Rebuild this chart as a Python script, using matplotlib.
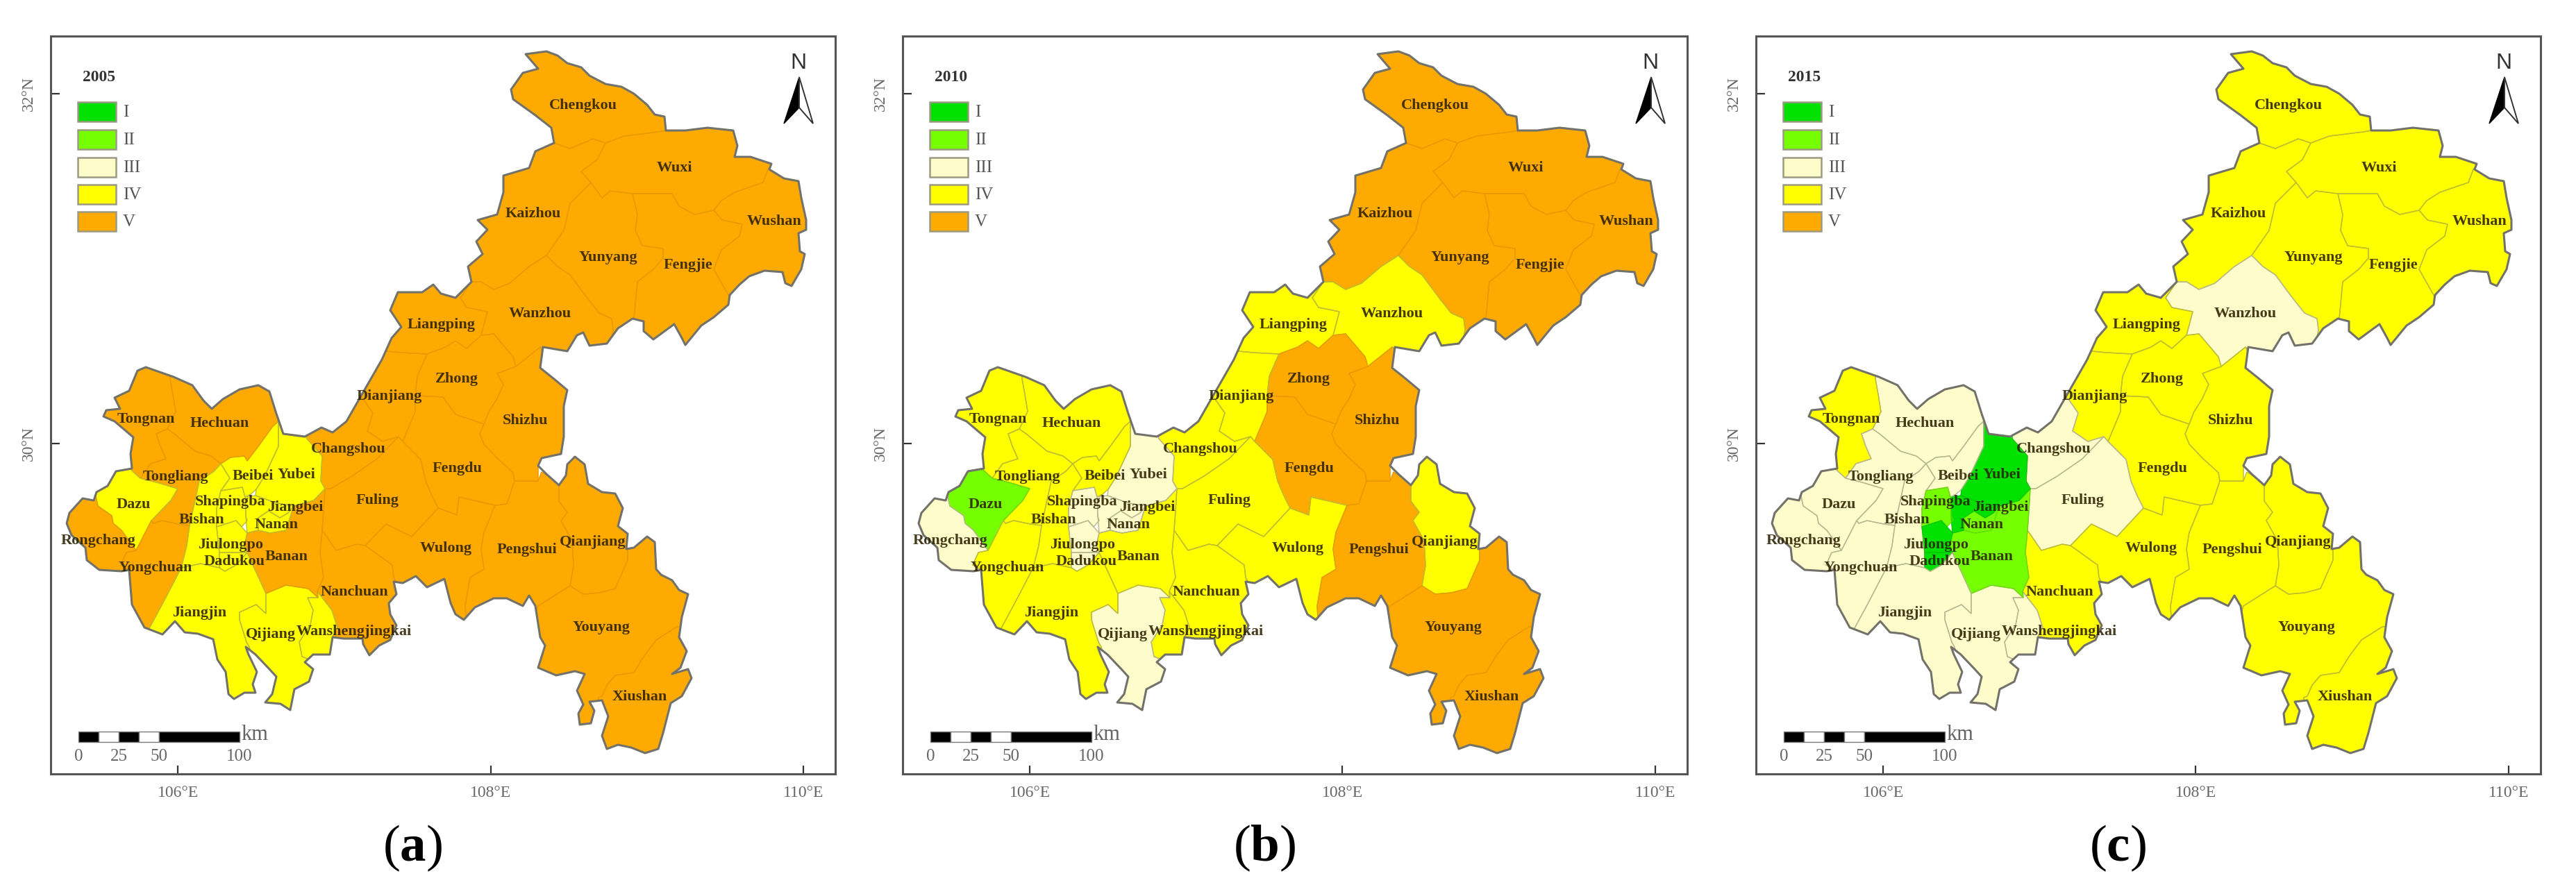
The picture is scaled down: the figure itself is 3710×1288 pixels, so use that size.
#!/usr/bin/env python3
"""
Three-panel map of Chongqing districts by grade, 2005 / 2010 / 2015.
Geometry was read off the figure, in pixels of the left panel, and is
converted to lon/lat before drawing. District shapes overrun the border
on purpose: they get clipped to the outline.
"""

import matplotlib
matplotlib.use("Agg")
import matplotlib.pyplot as plt
from matplotlib.patches import Polygon, Rectangle

plt.rcParams["font.family"] = ["Liberation Serif", "DejaVu Serif"]
plt.rcParams["mathtext.fontset"] = "custom"
plt.rcParams["mathtext.rm"] = "Liberation Serif"
plt.rcParams["mathtext.bf"] = "Liberation Serif:bold"

W, H = 3710, 1288
FRAME = (73, 52, 1203, 1115)          # left, top, right, bottom of panel a
PANEL_OFFSET = [0, 1227, 2456]
YEARS = ["2005", "2010", "2015"]
PANEL_TAGS = ["a", "b", "c"]

# two known ticks per axis give the px <-> degree scale
LON_TICKS = [106, 108, 110]
LON_TICK_PX = [256, 705, 1157]
LAT_TICKS = [30, 32]
LAT_TICK_PX = [639, 135]

GRADES = ["I", "II", "III", "IV", "V"]
GRADE_COLORS = ["#00E100", "#76FF00", "#FFFCCB", "#FFFF00", "#FFAA00"]
# district lines are only a shade darker than the fill
GRADE_LINES = ["#00C800", "#66DD00", "#B8B890", "#BDBD30", "#E89A00"]

OUTLINE = [
    (757, 78), (787, 74), (803, 80), (817, 91), (837, 97), (849, 109), (872, 121), (895, 125),
    (913, 135), (932, 151), (943, 165), (957, 168), (959, 188), (987, 188), (1019, 184), (1056, 188),
    (1062, 210), (1058, 226), (1081, 226), (1111, 236), (1108, 244), (1129, 257), (1150, 261), (1154, 285),
    (1161, 317), (1161, 331), (1150, 336), (1152, 362), (1159, 366), (1154, 388), (1140, 412), (1131, 408),
    (1127, 392), (1101, 390), (1079, 398), (1065, 410), (1051, 425), (1049, 439), (1028, 457), (1010, 469),
    (987, 497), (982, 487), (971, 467), (941, 489), (927, 477), (927, 463), (911, 459), (890, 473),
    (874, 495), (849, 498), (840, 479), (831, 483), (817, 506), (782, 500), (778, 530), (798, 546),
    (817, 562), (812, 585), (812, 629), (808, 654), (780, 660), (775, 671), (787, 683), (805, 699),
    (815, 685), (817, 669), (828, 658), (842, 669), (847, 697), (867, 709), (886, 711), (897, 732),
    (890, 758), (904, 769), (902, 791), (913, 789), (932, 773), (943, 781), (945, 820), (952, 828),
    (968, 836), (978, 850), (991, 856), (982, 889), (978, 918), (989, 938), (980, 962), (968, 971),
    (991, 964), (996, 977), (982, 1003), (966, 1013), (955, 1056), (948, 1079), (929, 1085), (909, 1077),
    (890, 1073), (874, 1079), (867, 1060), (876, 1032), (867, 1009), (849, 1011), (856, 1024), (851, 1042),
    (835, 1044), (833, 1028), (840, 1015), (831, 995), (842, 971), (828, 967), (801, 973), (775, 962),
    (785, 930), (778, 918), (771, 873), (762, 858), (753, 873), (730, 862), (711, 862), (684, 875),
    (668, 893), (656, 885), (649, 869), (640, 834), (615, 846), (599, 830), (580, 840), (567, 838),
    (571, 856), (560, 869), (562, 885), (571, 901), (562, 922), (546, 930), (532, 944), (523, 928),
    (522, 920), (495, 920), (479, 918), (475, 943), (451, 943), (439, 954), (451, 964), (445, 982),
    (424, 993), (418, 1023), (404, 1014), (382, 1012), (392, 1000), (398, 975), (388, 964), (368, 943),
    (354, 932), (358, 943), (370, 968), (364, 986), (368, 998), (352, 998), (337, 1007), (329, 1000),
    (325, 968), (313, 950), (307, 921), (285, 913), (266, 911), (252, 895), (234, 914), (208, 904),
    (190, 871), (186, 821), (175, 823), (143, 821), (125, 807), (123, 789), (103, 771), (96, 754),
    (100, 739), (119, 718), (135, 721), (139, 709), (155, 700), (167, 679), (190, 675), (188, 654),
    (192, 630), (165, 607), (149, 600), (153, 591), (173, 589), (165, 573), (186, 563), (198, 534),
    (210, 529), (250, 543), (277, 555), (293, 577), (305, 589), (321, 575), (345, 561), (372, 555),
    (388, 564), (398, 596), (408, 625), (439, 629), (463, 616), (479, 623), (499, 607), (515, 579),
    (534, 546), (550, 518), (564, 487), (578, 471), (562, 447), (573, 421), (608, 421), (624, 410),
    (635, 423), (656, 429), (679, 406), (674, 384), (695, 366), (686, 348), (702, 331), (688, 317),
    (716, 309), (725, 277), (725, 253), (762, 242), (771, 218), (798, 206), (794, 184), (771, 166),
    (739, 143), (736, 129), (753, 105), (775, 99),
]

Chengkou = [(798, 206), (770, 190), (700, 100), (780, 50), (900, 100), (970, 160), (959, 188), (948, 190),
            (899, 196), (872, 206), (854, 200), (821, 214)]
Wuxi = [(872, 206), (899, 196), (948, 190), (959, 188), (987, 180), (1060, 170), (1120, 230), (1106, 244),
        (1099, 263), (1058, 277), (1039, 289), (1028, 303), (1000, 309), (978, 297), (968, 279), (911, 279),
        (879, 275), (867, 285), (851, 263), (837, 247), (860, 230)]
Wushan = [(1106, 244), (1120, 230), (1170, 280), (1170, 420), (1060, 430), (1049, 425), (1028, 388), (1039, 360),
          (1065, 340), (1069, 323), (1040, 317), (1028, 303), (1039, 289), (1058, 277), (1099, 263)]
Kaizhou = [(798, 206), (821, 214), (854, 200), (872, 206), (860, 230), (837, 247), (851, 263), (821, 293),
           (812, 332), (787, 368), (762, 384), (734, 408), (711, 417), (693, 406), (679, 406), (650, 400),
           (700, 260), (770, 190)]
Yunyang = [(851, 263), (867, 285), (879, 275), (911, 279), (918, 309), (915, 332), (925, 354), (955, 358),
           (955, 372), (941, 388), (918, 406), (913, 459), (905, 470), (880, 490), (883, 475), (881, 459),
           (863, 451), (844, 427), (821, 396), (803, 384), (787, 368), (812, 332), (821, 293)]
Fengjie = [(911, 279), (968, 279), (978, 297), (1000, 309), (1028, 303), (1040, 317), (1069, 323), (1065, 340),
           (1039, 360), (1028, 388), (1049, 425), (1055, 440), (1000, 510), (930, 500), (905, 470), (913, 459),
           (918, 406), (941, 388), (955, 372), (955, 358), (925, 354), (915, 332), (918, 309)]
Wanzhou = [(787, 368), (803, 384), (821, 396), (844, 427), (863, 451), (881, 459), (883, 475), (880, 510),
           (780, 505), (778, 500), (743, 528), (739, 514), (711, 481), (693, 483), (702, 449), (672, 443),
           (663, 429), (679, 406), (693, 406), (711, 417), (734, 408), (762, 384)]
Liangping = [(679, 406), (663, 429), (672, 443), (702, 449), (693, 483), (672, 502), (656, 491), (642, 500),
             (615, 510), (578, 508), (557, 506), (540, 495), (540, 440), (580, 400), (670, 385)]
Zhong = [(642, 500), (656, 491), (672, 502), (693, 483), (711, 481), (739, 514), (743, 528), (716, 538),
         (725, 554), (716, 574), (704, 593), (697, 611), (656, 597), (638, 572), (598, 570), (601, 542), (615, 510)]
Dianjiang = [(557, 506), (578, 508), (615, 510), (601, 542), (598, 570), (598, 593), (580, 636), (574, 629),
             (551, 636), (529, 621), (537, 595), (523, 575), (505, 575), (540, 495)]
Shizhu = [(743, 528), (778, 500), (830, 540), (840, 640), (808, 654), (775, 671), (775, 693), (741, 693),
          (739, 681), (716, 660), (697, 640), (691, 625), (697, 611), (704, 593), (716, 574), (725, 554), (716, 538)]
Fengdu = [(598, 570), (638, 572), (656, 597), (697, 611), (691, 625), (697, 640), (716, 660), (739, 681),
          (741, 693), (730, 726), (713, 728), (661, 716), (658, 742), (631, 732), (622, 714), (613, 693),
          (606, 662), (580, 636), (598, 593)]
Changshou = [(523, 575), (537, 595), (529, 621), (551, 636), (574, 629), (543, 661), (507, 686), (476, 704),
             (468, 704), (462, 693), (464, 657), (442, 632), (430, 610), (500, 560)]
Fuling = [(468, 704), (476, 704), (507, 686), (543, 661), (574, 629), (580, 636), (606, 662), (613, 693),
          (622, 714), (631, 732), (593, 773), (556, 755), (526, 786), (514, 784), (484, 793), (464, 764), (466, 736)]
Wulong = [(526, 786), (556, 755), (593, 773), (631, 732), (658, 742), (661, 716), (713, 728), (697, 767),
          (693, 791), (697, 820), (677, 832), (670, 873), (672, 905), (640, 900), (575, 855), (567, 832), (565, 814)]
Pengshui = [(713, 728), (730, 726), (741, 693), (775, 693), (780, 680), (795, 690), (805, 699), (805, 722),
            (817, 738), (808, 750), (824, 779), (826, 815), (821, 844), (775, 873), (770, 890), (700, 890),
            (672, 905), (670, 873), (677, 832), (697, 820), (693, 791), (697, 767)]
Qianjiang = [(805, 699), (810, 650), (860, 640), (930, 720), (915, 760), (904, 791), (904, 807), (886, 848),
             (863, 854), (840, 856), (821, 844), (826, 815), (824, 779), (808, 750), (817, 738), (805, 722)]
Youyang = [(904, 791), (904, 807), (886, 848), (863, 854), (840, 856), (821, 844), (775, 873), (765, 900),
           (760, 980), (810, 1050), (860, 1050), (862, 1005), (867, 1003), (874, 987), (886, 973), (913, 969),
           (927, 946), (945, 922), (975, 903), (1010, 900), (1010, 840), (960, 760), (932, 760), (915, 780)]
Xiushan = [(867, 1003), (874, 987), (886, 973), (913, 969), (927, 946), (945, 922), (975, 903), (1010, 900),
           (1020, 1000), (960, 1100), (860, 1090), (862, 1005)]
Nanchuan = [(464, 764), (484, 793), (514, 784), (526, 786), (565, 814), (567, 832), (595, 880), (550, 965), (490, 950),
            (479, 918), (486, 904), (478, 879), (457, 852), (466, 832), (461, 796)]
Wansheng = [(457, 852), (478, 879), (486, 904), (479, 918), (485, 950), (445, 950), (435, 946), (431, 925),
            (447, 900), (451, 879), (443, 861), (458, 861)]
Qijiang = [(383, 855), (412, 843), (444, 848), (458, 861), (443, 861), (451, 879), (447, 900), (431, 925),
           (435, 946), (445, 950), (470, 975), (430, 1040), (375, 1020), (378, 975), (362, 945), (359, 932),
           (355, 925), (345, 893), (345, 882), (369, 871), (383, 884)]
Banan = [(356, 768), (372, 764), (389, 768), (412, 764), (423, 729), (452, 721), (468, 704), (466, 736),
         (464, 764), (461, 796), (466, 832), (457, 852), (458, 861), (444, 848), (412, 843), (383, 855),
         (366, 818), (356, 796), (352, 786)]
Nanan = [(372, 746), (387, 736), (403, 746), (415, 739), (423, 729), (412, 764), (389, 768), (372, 764)]
Jiangbei = [(353, 716), (368, 714), (399, 725), (423, 729), (415, 739), (403, 746), (387, 736), (372, 746),
            (372, 764), (356, 768), (354, 743)]
Yubei = [(401, 607), (415, 615), (442, 625), (442, 632), (464, 657), (462, 693), (468, 704), (452, 721),
         (423, 729), (399, 725), (368, 714), (369, 705), (381, 686), (401, 643)]
Beibei = [(318, 668), (332, 659), (352, 657), (356, 664), (372, 643), (393, 614), (401, 607), (401, 643),
          (381, 686), (369, 705), (361, 712), (353, 716), (349, 702), (318, 707), (331, 689)]
Hechuan = [(245, 546), (249, 568), (253, 593), (241, 618), (251, 625), (281, 650), (304, 657), (318, 668),
           (332, 659), (352, 657), (356, 664), (372, 643), (393, 614), (401, 607), (415, 590), (400, 540), (245, 510)]
Tongnan = [(245, 546), (249, 568), (253, 593), (241, 618), (225, 625), (231, 643), (239, 661), (217, 668),
           (202, 689), (190, 678), (170, 650), (130, 600), (190, 500), (245, 510)]
Tongliang = [(225, 625), (241, 618), (251, 625), (281, 650), (304, 657), (318, 668), (308, 679), (287, 693),
             (273, 757), (257, 755), (233, 750), (221, 754), (218, 750), (246, 721), (256, 704), (226, 695),
             (202, 689), (217, 668), (239, 661), (231, 643)]
Dazu = [(190, 678), (202, 689), (226, 695), (256, 704), (246, 721), (218, 750), (196, 793), (175, 764),
        (163, 754), (161, 743), (141, 729), (137, 711), (125, 700), (170, 660)]
Rongchang = [(137, 711), (141, 729), (161, 743), (163, 754), (175, 764), (196, 793), (182, 796), (174, 814),
             (186, 821), (170, 840), (100, 820), (80, 740), (120, 700)]
Yongchuan = [(196, 793), (218, 750), (221, 754), (233, 750), (257, 755), (273, 757), (269, 786), (261, 818),
             (235, 868), (215, 905), (200, 915), (170, 860), (170, 840), (186, 821), (174, 814), (182, 796)]
Bishan = [(318, 668), (331, 689), (318, 707), (312, 732), (312, 759), (316, 796), (316, 818), (289, 812),
          (261, 818), (269, 786), (273, 757), (287, 693), (308, 679)]
Shapingba = [(318, 707), (349, 702), (353, 716), (354, 743), (356, 750), (348, 759), (340, 750), (312, 759), (312, 732)]
Jiulongpo = [(312, 759), (340, 750), (348, 759), (356, 768), (352, 786), (356, 796), (316, 796)]
Dadukou = [(316, 796), (356, 796), (340, 814), (324, 823), (316, 818)]
Jiangjin = [(261, 818), (289, 812), (316, 818), (324, 823), (340, 814), (356, 796), (366, 818), (383, 855),
            (383, 884), (369, 871), (345, 882), (345, 893), (355, 925), (359, 932), (362, 945), (378, 975),
            (375, 1020), (300, 1020), (200, 920), (215, 905), (235, 868)]

DISTRICT_NAMES = ["Chengkou", "Wuxi", "Wushan", "Kaizhou", "Yunyang", "Fengjie", "Wanzhou", "Liangping",
                  "Zhong", "Dianjiang", "Shizhu", "Fengdu", "Changshou", "Fuling", "Wulong", "Pengshui",
                  "Qianjiang", "Youyang", "Xiushan", "Nanchuan", "Wanshengjingkai", "Qijiang", "Banan", "Nanan",
                  "Jiangbei", "Yubei", "Beibei", "Hechuan", "Tongnan", "Tongliang", "Dazu", "Rongchang",
                  "Yongchuan", "Bishan", "Shapingba", "Jiulongpo", "Dadukou", "Jiangjin"]
DISTRICT_SHAPES = [Chengkou, Wuxi, Wushan, Kaizhou, Yunyang, Fengjie, Wanzhou, Liangping,
                   Zhong, Dianjiang, Shizhu, Fengdu, Changshou, Fuling, Wulong, Pengshui,
                   Qianjiang, Youyang, Xiushan, Nanchuan, Wansheng, Qijiang, Banan, Nanan,
                   Jiangbei, Yubei, Beibei, Hechuan, Tongnan, Tongliang, Dazu, Rongchang,
                   Yongchuan, Bishan, Shapingba, Jiulongpo, Dadukou, Jiangjin]
LABEL_X = [840, 971, 1115, 768, 876, 991, 778, 636,
           658, 561, 757, 659, 502, 544, 642, 759,
           854, 866, 921, 510, 510, 390, 413, 398,
           425, 427, 364, 316, 210, 253, 192, 142,
           224, 290, 332, 332, 338, 287]
LABEL_Y = [152, 242, 319, 308, 371, 382, 452, 468,
           546, 571, 606, 675, 647, 721, 790, 792,
           781, 904, 1004, 853, 910, 914, 802, 756,
           731, 684, 686, 610, 604, 687, 727, 779,
           818, 749, 723, 785, 809, 883]

# grade index of each district, same order as DISTRICT_NAMES
GRADE_2005 = [4, 4, 4, 4, 4, 4, 4, 4, 4, 4, 4, 4, 4, 4, 4, 4, 4, 4, 4, 4, 3, 3, 4, 3,
              3, 3, 3, 4, 4, 4, 3, 4, 4, 3, 3, 3, 3, 3]
GRADE_2010 = [4, 4, 4, 4, 4, 4, 3, 3, 4, 3, 4, 4, 3, 3, 3, 4, 3, 4, 4, 3, 3, 2, 3, 2,
              2, 2, 3, 3, 3, 3, 1, 2, 3, 3, 2, 2, 2, 3]
GRADE_2015 = [3, 3, 3, 3, 3, 3, 2, 3, 3, 3, 3, 3, 2, 2, 3, 3, 3, 3, 3, 3, 2, 2, 1, 1,
              0, 0, 2, 2, 3, 2, 2, 2, 2, 2, 1, 0, 0, 2]
GRADE_BY_YEAR = [GRADE_2005, GRADE_2010, GRADE_2015]

SCALE_KM = [0, 12.5, 25, 37.5, 50, 100]
SCALE_LABELS = ["0", "25", "50", "100"]
SCALE_LABEL_KM = [0, 25, 50, 100]

LON_PER_PX = (LON_TICKS[2] - LON_TICKS[0]) / (LON_TICK_PX[2] - LON_TICK_PX[0])
LAT_PER_PX = (LAT_TICKS[1] - LAT_TICKS[0]) / (LAT_TICK_PX[1] - LAT_TICK_PX[0])


def to_map(x, y):
    return (LON_TICKS[0] + (x - LON_TICK_PX[0]) * LON_PER_PX,
            LAT_TICKS[0] + (y - LAT_TICK_PX[0]) * LAT_PER_PX)


def map_pts(pts):
    return [to_map(x, y) for x, y in pts]


def box(ax, x0, y0, x1, y1, **kw):
    (a, b), (c, d) = to_map(x0, y1), to_map(x1, y0)
    ax.add_patch(Rectangle((a, b), c - a, d - b, **kw))


def draw_legend(ax, year):
    tx, ty = to_map(143, 112)
    ax.text(tx, ty, year, fontsize=17, fontweight="bold", color="#333333", ha="center", va="center")
    tops = [147, 187, 227, 266, 305]
    for top, grade, col in zip(tops, GRADES, GRADE_COLORS):
        box(ax, 112, top, 167, top + 28, fc=col, ec="#9a9a80", lw=1.8)
        tx, ty = to_map(177, top + 15)
        ax.text(tx, ty, grade, fontsize=18, color="#555555", ha="left", va="center")


def draw_scale_bar(ax):
    px_per_km = 232 / 100
    for i in range(len(SCALE_KM) - 1):
        x0 = 113 + SCALE_KM[i] * px_per_km
        x1 = 113 + SCALE_KM[i + 1] * px_per_km
        box(ax, x0, 1054, x1, 1069, fc="black" if i % 2 == 0 else "white", ec="#777777", lw=1)
    for km, lab in zip(SCALE_LABEL_KM, SCALE_LABELS):
        tx, ty = to_map(113 + km * px_per_km, 1090)
        ax.text(tx, ty, lab, fontsize=18, color="#666666", ha="center", va="center")
    tx, ty = to_map(367, 1059)
    ax.text(tx, ty, "km", fontsize=22, color="#666666", ha="center", va="center")


def draw_north(ax):
    tx, ty = to_map(1150, 91)
    ax.text(tx, ty, "N", fontsize=23, color="#333333", ha="center", va="center", family="Liberation Sans")
    ax.add_patch(Polygon(map_pts([(1151, 111), (1129, 178), (1151, 155)]), fc="black", ec="black", lw=1))
    ax.add_patch(Polygon(map_pts([(1151, 111), (1171, 178), (1151, 155)]), fc="white", ec="#333333", lw=1.4))


def draw_panel(ax, year, grades):
    outline = Polygon(map_pts(OUTLINE), closed=True, fc="none", ec="none")
    ax.add_patch(outline)
    for shape, g in zip(DISTRICT_SHAPES, grades):
        poly = Polygon(map_pts(shape), closed=True, fc=GRADE_COLORS[g], ec=GRADE_COLORS[g], lw=0.5)
        ax.add_patch(poly)
        poly.set_clip_path(outline)
    # thin district lines go on top so they are not painted over by a neighbour
    for shape, g in zip(DISTRICT_SHAPES, grades):
        line = Polygon(map_pts(shape), closed=True, fc="none", ec=GRADE_LINES[g], lw=1.0)
        ax.add_patch(line)
        line.set_clip_path(outline)
    ax.add_patch(Polygon(map_pts(OUTLINE), closed=True, fc="none", ec="#72726A", lw=2.2, joinstyle="round"))

    for name, x, y in zip(DISTRICT_NAMES, LABEL_X, LABEL_Y):
        tx, ty = to_map(x, y)
        ax.text(tx, ty, name, fontsize=16, fontweight="bold", color="#2B2000", alpha=0.88,
                ha="center", va="center")

    draw_legend(ax, year)
    draw_scale_bar(ax)
    draw_north(ax)


def main():
    fig = plt.figure(figsize=(W / 100, H / 100), dpi=100)
    left, top, right, bottom = FRAME
    x0, y0 = to_map(left, bottom)
    x1, y1 = to_map(right, top)
    for offset, year, grades, tag in zip(PANEL_OFFSET, YEARS, GRADE_BY_YEAR, PANEL_TAGS):
        ax = fig.add_axes([(left + offset) / W, 1 - bottom / H, (right - left) / W, (bottom - top) / H])
        ax.set_xlim(x0, x1)
        ax.set_ylim(y0, y1)
        ax.set_xticks(LON_TICKS)
        ax.set_xticklabels([f"{v}°E" for v in LON_TICKS])
        ax.set_yticks(LAT_TICKS)
        ax.set_yticklabels([f"{v}°N" for v in LAT_TICKS], rotation=90, va="center")
        ax.tick_params(direction="in", length=9, width=1.6, color="#333333", labelcolor="#666666",
                       labelsize=17, pad=12)
        ax.tick_params(axis="y", pad=15)
        for sp in ax.spines.values():
            sp.set_linewidth(2.2)
            sp.set_color("#555555")
        draw_panel(ax, year, grades)
        fig.text((594 + offset) / W, 1 - 1222 / H, rf"$(\mathbf{{{tag}}})$", fontsize=54,
                 color="black", ha="center", va="center")

    fig.savefig("out.png", dpi=100)
    plt.close(fig)
    print("Saved figure -> out.png")


if __name__ == "__main__":
    main()
